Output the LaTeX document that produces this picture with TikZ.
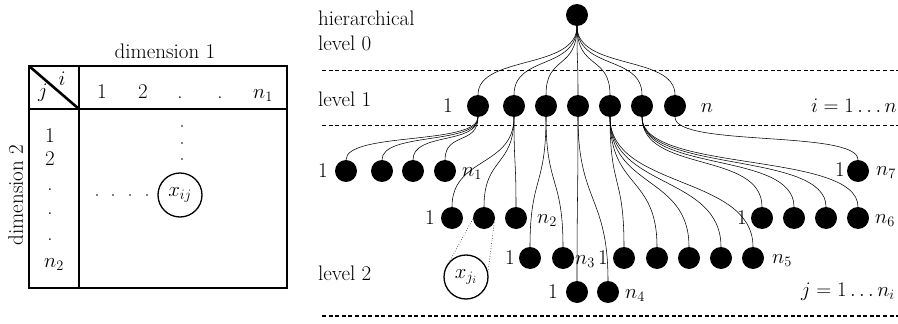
\documentclass[tikz,border=0pt]{standalone}
\usetikzlibrary{calc}
\begin{document}
\begin{tikzpicture}[x=1pt,y=-1pt,
  dot/.style={circle,fill=black,draw=none,minimum size=22pt,inner sep=0pt},
  txt/.style={font=\fontsize{21}{25}\selectfont,inner sep=0pt},
  conn/.style={line width=0.55pt},
  sepline/.style={line width=1.4pt,dash pattern=on 4pt off 2.6pt},
  tab/.style={line width=2.6pt},
  ring/.style={draw,circle,minimum size=44pt,line width=1.3pt,inner sep=0pt,font=\fontsize{21}{25}\selectfont},
  tiny/.style={circle,fill=black,minimum size=1.8pt,inner sep=0pt},
]
\useasboundingbox (0,0) rectangle (898,324);

% ---------------- left table ----------------
\draw[tab] (29,66) rectangle (287,288);
\draw[tab] (79,66) -- (79,288);
\draw[tab] (29,109) -- (287,109);
\draw[tab] (29,66) -- (79,109);

\node[txt,anchor=base] (dim1) at (165,58) {dimension 1};
\node[txt,anchor=base,rotate=90] (dim2) at (23,195) {dimension 2};
\node[txt,anchor=base] (ti) at (62,85) {$i$};
\node[txt,anchor=base] (tj) at (43,97) {$j$};

\node[txt,anchor=base] (c1) at (102,98) {1};
\node[txt,anchor=base] (c2) at (143,98) {2};
\node[txt,anchor=base] (c3) at (180,98) {.};
\node[txt,anchor=base] (c4) at (220,98) {.};
\node[txt,anchor=base west] (c5) at (253,98) {$n_1$};

\node[txt,anchor=base] (r1) at (50,142) {1};
\node[txt,anchor=base] (r2) at (50,165) {2};
\node[txt,anchor=base] (r3) at (50,190) {.};
\node[txt,anchor=base] (r4) at (50,214) {.};
\node[txt,anchor=base] (r5) at (50,240) {.};
\node[txt,anchor=base west] (r6) at (44,267) {$n_2$};

\node[tiny] (v1) at (182,126) {};
\node[tiny] (v2) at (182,143) {};
\node[tiny] (v3) at (182,159) {};
\node[tiny] (h1) at (97,195) {};
\node[tiny] (h2) at (113,195) {};
\node[tiny] (h3) at (130,195) {};
\node[tiny] (h4) at (147,195) {};

\node[ring] (xij) at (180,195) {$x_{ij}$};

% ---------------- right tree ----------------
\node[txt,anchor=base west] (hier) at (318,26) {hierarchical};
\node[txt,anchor=base west] (lev0) at (318,50) {level 0};
\node[txt,anchor=base west] (lev1) at (318,106) {level 1};
\node[txt,anchor=base west] (lev2) at (318,280) {level 2};

\draw[sepline] (322,70.5) -- (898,70.5);
\draw[sepline] (322,125.5) -- (898,125.5);
\draw[sepline] (322,316) -- (898,316);

\node[txt,anchor=base east] (irange) at (897,112) {$i = 1\ldots n$};
\node[txt,anchor=base east] (jrange) at (895,296) {$j = 1\ldots n_i$};

\node[dot] (root) at (577,15) {};
\foreach \x [count=\k] in {478,514,546,578,610,642,675} {
  \node[dot] (a\k) at (\x,106) {};
  \draw[conn] (root.south) .. controls +(0,44) and +(0,-40) .. (a\k.north);
}
\node[txt,anchor=base] (l1one) at (448,112) {1};
\node[txt,anchor=base] (l1n) at (707,112) {$n$};

\foreach \p/\y/\kk/\xs in {
  1/171/28/{346,382,413,445},
  2/218/50/{452,484,516},
  3/258/70/{530,563},
  4/292/85/{577,608},
  5/258/72/{624,657,689,721,753},
  6/218/56/{762,794,826,858},
  7/171/30/{858}} {
  \foreach \x [count=\i] in \xs {
    \node[dot] (g\p-\i) at (\x,\y) {};
    \draw[conn] (a\p.south) .. controls +(0,\kk) and +(0,-\kk) .. (g\p-\i.north);
  }
}

% group labels
\node[txt,anchor=base] (g1a) at (323,177) {1};
\node[txt,anchor=base west] (g1b) at (462,176) {$n_1$};
\node[txt,anchor=base] (g2a) at (430,224) {1};
\node[txt,anchor=base west] (g2b) at (537,223) {$n_2$};
\node[txt,anchor=base] (g3a) at (510,264) {1};
\node[txt,anchor=base west] (g3b) at (575,264) {$n_3$};
\node[txt,anchor=base] (g4a) at (553,298) {1};
\node[txt,anchor=base west] (g4b) at (625,298) {$n_4$};
\node[txt,anchor=base] (g5a) at (603,264) {1};
\node[txt,anchor=base west] (g5b) at (772,263) {$n_5$};
\node[txt,anchor=base] (g6a) at (742,224) {1};
\node[txt,anchor=base west] (g6b) at (875,223) {$n_6$};
\node[txt,anchor=base] (g7a) at (840,176) {1};
\node[txt,anchor=base west] (g7b) at (876,175) {$n_7$};

% zoom circle
\node[ring] (xji) at (466,277) {$x_{j_i}$};
\draw[dotted,line width=0.6pt] (g2-2.185) -- (xji.137);
\draw[dotted,line width=0.6pt] (g2-2.336) -- (xji.13);
\end{tikzpicture}
\end{document}
